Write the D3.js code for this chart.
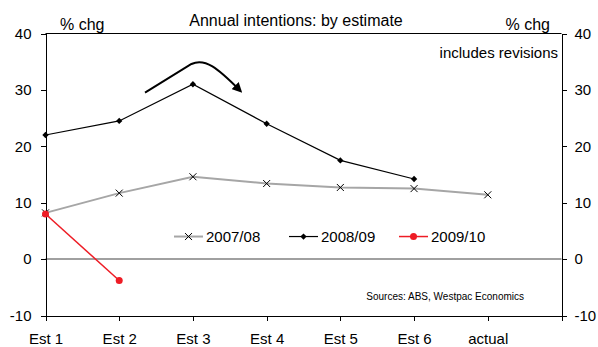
<!DOCTYPE html>
<html>
<head>
  <meta charset="utf-8">
  <script src="https://d3js.org/d3.v7.min.js"></script>
  <style>
    body { margin: 0; background: #fff; font-family: "Liberation Sans", Arial, sans-serif; }
    .axis path, .axis line { fill: none; stroke: #000; shape-rendering: crispEdges; }
    .axis text { font-size: 15px; fill: #000; }
  </style>
</head>
<body>
  <div id="chart"></div>
  <script>
    const categories = ["Est 1", "Est 2", "Est 3", "Est 4", "Est 5", "Est 6", "actual"];
    const s0708 = [8.2, 11.7, 14.6, 13.4, 12.7, 12.5, 11.4];
    const s0809 = [22.0, 24.5, 31.0, 24.0, 17.5, 14.2];
    const s0910 = [8.0, -3.8];
    const yTicks = [-10, 0, 10, 20, 30, 40];

    const W = 598, H = 347;
    const plotL = 45.5, plotR = 561.5, plotT = 33.5, plotB = 315.5;

    const svg = d3.select("#chart").append("svg")
      .attr("width", W).attr("height", H);

    // 8 slots: the last one is empty, sits on the right axis
    const xi = d3.scaleLinear().domain([0, categories.length]).range([plotL, plotR]);
    const y = d3.scaleLinear().domain([-10, 40]).range([plotB, plotT]);
    const fmt = d => String(d); // plain hyphen, like the original

    // zero line
    svg.append("line")
      .attr("x1", plotL).attr("x2", plotR)
      .attr("y1", y(0)).attr("y2", y(0))
      .attr("stroke", "#808080").attr("stroke-width", 1.5);

    // top border
    svg.append("line")
      .attr("x1", plotL).attr("x2", plotR)
      .attr("y1", plotT).attr("y2", plotT)
      .attr("stroke", "#000");

    // axes
    svg.append("g").attr("class", "axis")
      .attr("transform", `translate(${plotL},0)`)
      .call(d3.axisLeft(y).tickValues(yTicks).tickFormat(fmt).tickSize(5).tickPadding(9).tickSizeOuter(0));

    svg.append("g").attr("class", "axis")
      .attr("transform", `translate(${plotR},0)`)
      .call(d3.axisRight(y).tickValues(yTicks).tickFormat(fmt).tickSize(5).tickPadding(8).tickSizeOuter(0));

    const xAxis = d3.axisBottom(xi)
      .tickValues(d3.range(categories.length + 1))
      .tickFormat(i => categories[i] || "")
      .tickSize(5).tickPadding(12.5).tickSizeOuter(0);
    svg.append("g").attr("class", "axis")
      .attr("transform", `translate(0,${plotB})`)
      .call(xAxis);

    const line = d3.line().x((d, i) => xi(i)).y(d => y(d));

    // 2007/08
    svg.append("path").datum(s0708)
      .attr("d", line).attr("fill", "none")
      .attr("stroke", "#a6a6a6").attr("stroke-width", 2);
    function xMark(g, cx, cy) {
      g.append("path")
        .attr("d", `M${cx - 3.5},${cy - 3.5}L${cx + 3.5},${cy + 3.5}M${cx - 3.5},${cy + 3.5}L${cx + 3.5},${cy - 3.5}`)
        .attr("stroke", "#000").attr("stroke-width", 1);
    }
    s0708.forEach((d, i) => xMark(svg, xi(i), y(d)));

    // 2008/09
    svg.append("path").datum(s0809)
      .attr("d", line).attr("fill", "none")
      .attr("stroke", "#000").attr("stroke-width", 1.2);
    const diamond = d3.symbol().type(d3.symbolSquare).size(20);
    svg.selectAll(".dia").data(s0809).join("path")
      .attr("transform", (d, i) => `translate(${xi(i)},${y(d)}) rotate(45)`)
      .attr("d", diamond).attr("fill", "#000");

    // 2009/10
    svg.append("path").datum(s0910)
      .attr("d", line).attr("fill", "none")
      .attr("stroke", "#ee1c25").attr("stroke-width", 1.5);
    svg.selectAll(".dot").data(s0910).join("circle")
      .attr("cx", (d, i) => xi(i)).attr("cy", d => y(d))
      .attr("r", 3.5).attr("fill", "#ee1c25");

    // curved arrow annotation
    svg.append("defs").append("marker")
      .attr("id", "ah").attr("viewBox", "0 0 10 10")
      .attr("refX", 6).attr("refY", 5)
      .attr("markerWidth", 5).attr("markerHeight", 5)
      .attr("orient", "auto")
      .append("path").attr("d", "M0,0L10,5L0,10z").attr("fill", "#000");
    const a0 = [xi(1.35), y(29.5)], a1 = [xi(1.98), y(34.6)], a2 = [xi(2.63), y(30)];
    svg.append("path")
      .attr("d", `M${a0}L${a1}C${a1[0] + 14},${a1[1] - 6} ${a2[0] - 22},${a2[1] - 22} ${a2}`)
      .attr("fill", "none").attr("stroke", "#000").attr("stroke-width", 2)
      .attr("marker-end", "url(#ah)");

    // legend
    const legY = y(4);
    const legend = [
      { name: "2007/08", x: 174, color: "#a6a6a6", w: 2, mark: "x" },
      { name: "2008/09", x: 289, color: "#000", w: 1.2, mark: "d" },
      { name: "2009/10", x: 399, color: "#ee1c25", w: 1.5, mark: "c" }
    ];
    legend.forEach(l => {
      svg.append("line").attr("x1", l.x).attr("x2", l.x + 29)
        .attr("y1", legY).attr("y2", legY)
        .attr("stroke", l.color).attr("stroke-width", l.w);
      const cx = l.x + 14.5;
      if (l.mark === "x") xMark(svg, cx, legY);
      else if (l.mark === "d") svg.append("path").attr("transform", `translate(${cx},${legY}) rotate(45)`).attr("d", diamond).attr("fill", "#000");
      else svg.append("circle").attr("cx", cx).attr("cy", legY).attr("r", 3.5).attr("fill", l.color);
      svg.append("text").attr("x", l.x + 32).attr("y", legY + 5.5)
        .style("font-size", "15px").text(l.name);
    });

    // titles and notes
    svg.append("text").attr("x", 296).attr("y", 26)
      .attr("text-anchor", "middle").style("font-size", "16px")
      .text("Annual intentions: by estimate");
    svg.append("text").attr("x", 60).attr("y", 30)
      .style("font-size", "16px").text("% chg");
    svg.append("text").attr("x", 550).attr("y", 30)
      .attr("text-anchor", "end").style("font-size", "16px").text("% chg");
    svg.append("text").attr("x", 558).attr("y", 58)
      .attr("text-anchor", "end").style("font-size", "15px").text("includes revisions");
    svg.append("text").attr("x", 524).attr("y", 300)
      .attr("text-anchor", "end").style("font-size", "10px")
      .text("Sources: ABS, Westpac Economics");
  </script>
</body>
</html>
